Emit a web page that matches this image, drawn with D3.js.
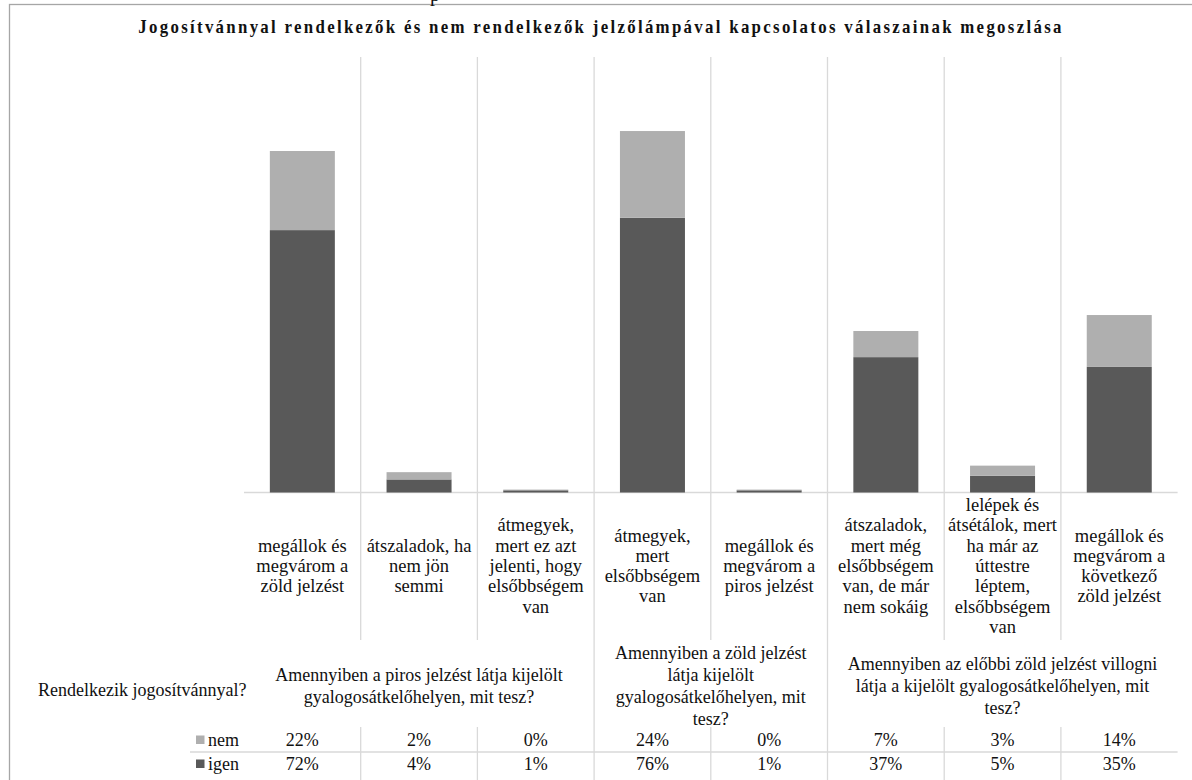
<!DOCTYPE html>
<html>
<head>
<meta charset="utf-8">
<script src="https://cdn.jsdelivr.net/npm/d3@7"></script>
<style>
  html, body { margin: 0; padding: 0; background: #fff; }
  svg { display: block; }
</style>
</head>
<body>
<svg id="chart" width="1192" height="780"></svg>
<script>
// ---------- DATA ----------
const title = "Jogosítvánnyal rendelkezők és nem rendelkezők jelzőlámpával kapcsolatos válaszainak megoszlása";

const categories = [
  ["megállok és", "megvárom a", "zöld jelzést"],
  ["átszaladok, ha", "nem jön", "semmi"],
  ["átmegyek,", "mert ez azt", "jelenti, hogy", "elsőbbségem", "van"],
  ["átmegyek,", "mert", "elsőbbségem", "van"],
  ["megállok és", "megvárom a", "piros jelzést"],
  ["átszaladok,", "mert még", "elsőbbségem", "van, de már", "nem sokáig"],
  ["lelépek és", "átsétálok, mert", "ha már az", "úttestre", "léptem,", "elsőbbségem", "van"],
  ["megállok és", "megvárom a", "következő", "zöld jelzést"]
];

const groupLabels = [
  ["Amennyiben a piros jelzést látja kijelölt", "gyalogosátkelőhelyen, mit tesz?"],
  ["Amennyiben a zöld jelzést", "látja kijelölt", "gyalogosátkelőhelyen, mit", "tesz?"],
  ["Amennyiben az előbbi zöld jelzést villogni", "látja a kijelölt gyalogosátkelőhelyen, mit", "tesz?"]
];
const groupSizes = [3, 2, 3];

const rowHeaderLabel = "Rendelkezik jogosítvánnyal?";
const seriesNames = ["igen", "nem"];
const igen = [72.3, 3.6, 0.6, 75.7, 0.6, 37.3, 4.6, 34.6];
const nem  = [21.8, 2.0, 0.2, 23.9, 0.2, 7.2, 2.8, 14.3];
const yTicks = [0, 20, 40, 60, 80, 100, 120];

// ---------- LAYOUT ----------
const FONT = "Liberation Serif";
const svg = d3.select("#chart");
const W = 1192, H = 780;
const plotLeft = 244, plotRight = 1177.6, plotTop = 57, plotBottom = 492.5;
const colors = { igen: "#595959", nem: "#afafaf" };
const gridColor = "#d9d9d9";
const ink = "#111";

const keys = categories.map((d, i) => "c" + i);
const x = d3.scaleBand().domain(keys).range([plotLeft, plotRight])
  .paddingInner(0.443).paddingOuter(0.2215);
const y = d3.scaleLinear().domain([0, d3.max(yTicks)]).range([plotBottom, plotTop]);

const rows = keys.map((k, i) => ({ key: k, igen: igen[i], nem: nem[i] }));
const stacked = d3.stack().keys(seriesNames)(rows);

function txt(sel) {
  return sel.append("text").style("font-family", FONT).attr("fill", ink);
}

// outer frame
svg.append("rect").attr("x", 9.5).attr("y", 4.5).attr("width", 1190).attr("height", 800)
  .attr("fill", "none").attr("stroke", "#a6a6a6").attr("stroke-width", 1.3);

// stray clipped glyph above frame (cut off in the reference too)
txt(svg).attr("x", 430).attr("y", 1).style("font-size", "20px").text("p");

// title: bold, letter-spaced, horizontally condensed
const tt = txt(svg).attr("text-anchor", "middle")
  .style("font-size", "19px").style("font-weight", "bold").style("letter-spacing", "2.6px")
  .text(title);
const natural = tt.node().getComputedTextLength();
const sx = 926 / natural;
tt.attr("transform", `translate(601,33) scale(${sx},1)`);

// boundaries
const step = x.step();
const boundaryX = i => x(keys[0]) - (step - x.bandwidth()) / 2 + i * step;

const grid = svg.append("g").attr("stroke", gridColor).attr("stroke-width", 1.3);
for (let i = 1; i < keys.length; i++) {
  grid.append("line").attr("x1", boundaryX(i)).attr("x2", boundaryX(i))
    .attr("y1", plotTop).attr("y2", 640);
  grid.append("line").attr("x1", boundaryX(i)).attr("x2", boundaryX(i))
    .attr("y1", 727).attr("y2", H);
}
let acc = 0;
const groupStarts = groupSizes.map(s => { const st = acc; acc += s; return st; });
groupStarts.slice(1).forEach(st => {
  grid.append("line").attr("x1", boundaryX(st)).attr("x2", boundaryX(st))
    .attr("y1", 640).attr("y2", 727);
});
grid.append("line").attr("x1", plotLeft).attr("x2", plotRight)
  .attr("y1", y(0)).attr("y2", y(0)).attr("stroke-width", 1.6);
grid.append("line").attr("x1", 190).attr("x2", plotRight)
  .attr("y1", 752).attr("y2", 752);

// bars
svg.append("g").selectAll("g").data(stacked).join("g")
  .attr("fill", d => colors[d.key])
  .selectAll("rect").data(d => d).join("rect")
  .attr("x", d => x(d.data.key))
  .attr("width", x.bandwidth())
  .attr("y", d => y(d[1]))
  .attr("height", d => Math.max(0, y(d[0]) - y(d[1])));

// category labels
const lh = 20.3, fs = 18.5;
categories.forEach((lines, i) => {
  const cx = x(keys[i]) + x.bandwidth() / 2;
  const t = txt(svg).attr("text-anchor", "middle").style("font-size", fs + "px");
  lines.forEach((ln, j) => {
    t.append("tspan").attr("x", cx)
      .attr("y", 566 + (j - (lines.length - 1) / 2) * lh + 6)
      .text(ln);
  });
});

// group labels
groupLabels.forEach((lines, g) => {
  const st = groupStarts[g], en = st + groupSizes[g];
  const cx = (boundaryX(st) + boundaryX(en)) / 2;
  const t = txt(svg).attr("text-anchor", "middle").style("font-size", "18px");
  lines.forEach((ln, j) => {
    t.append("tspan").attr("x", cx)
      .attr("y", 686 + (j - (lines.length - 1) / 2) * 22 + 6)
      .text(ln);
  });
});

txt(svg).attr("x", 38).attr("y", 696).style("font-size", "18px").text(rowHeaderLabel);

// data table
const tableRows = [
  { key: "nem", values: nem, base: 746 },
  { key: "igen", values: igen, base: 770 }
];
const fmt = v => Math.round(v) + "%";
tableRows.forEach(r => {
  svg.append("rect").attr("x", 196).attr("y", r.base - 10.5).attr("width", 8.5).attr("height", 8.5)
    .attr("fill", colors[r.key]);
  txt(svg).attr("x", 208).attr("y", r.base).style("font-size", "18px").text(r.key);
  r.values.forEach((v, i) => {
    txt(svg).attr("x", x(keys[i]) + x.bandwidth() / 2).attr("y", r.base)
      .attr("text-anchor", "middle").style("font-size", "18px").text(fmt(v));
  });
});
</script>
</body>
</html>
